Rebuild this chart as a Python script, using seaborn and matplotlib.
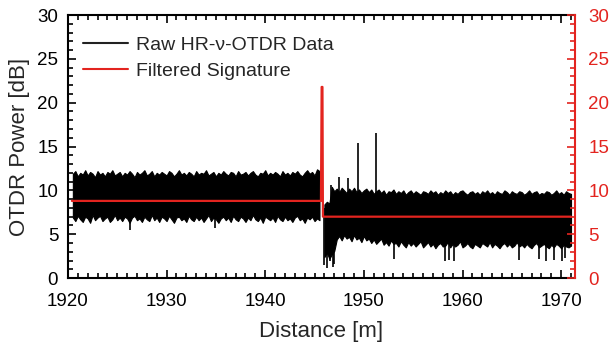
import numpy as np
import pandas as pd
import matplotlib
matplotlib.use("Agg")
import matplotlib.pyplot as plt
from matplotlib.lines import Line2D
from matplotlib.ticker import MultipleLocator
import seaborn as sns

sns.set_theme(style="white")
plt.rcParams['font.family'] = ['Liberation Sans', 'DejaVu Sans']

RED = "#e3241f"

# ---------------- data ----------------
# Raw HR-nu-OTDR trace envelope, sampled every 0.25 m
left_start = 1920.5
upper_left = [11.9, 12.2, 11.6, 12.0, 11.8, 12.3, 11.7, 12.1, 11.9, 11.5,
              12.2, 11.8, 12.0, 11.6, 12.1, 11.9, 12.3, 11.7, 11.9, 12.1,
              11.6, 12.0, 11.8, 12.2, 11.9, 11.5, 12.1, 11.8, 12.0, 12.3,
              11.7, 11.9, 12.2, 11.6, 12.0, 11.8, 12.1, 11.9, 11.7, 12.2,
              12.0, 11.6, 11.9, 12.3, 11.8, 12.0, 11.7, 12.1, 11.9, 11.6,
              12.2, 11.8, 12.0, 11.9, 12.3, 11.7, 11.9, 12.1, 11.6, 12.0,
              11.8, 12.2, 11.9, 11.7, 12.1, 12.0, 11.6, 12.2, 11.8, 11.9,
              12.1, 11.7, 12.0, 12.2, 11.8, 11.6, 12.0, 11.9, 12.3, 11.7,
              12.0, 11.8, 12.1, 11.9, 11.6, 12.2, 11.8, 12.0, 11.7, 12.1,
              11.9, 12.2, 11.8, 11.6, 12.0, 12.3, 11.9, 12.1, 11.7, 12.4,
              12.2]
lower_left = [6.9, 6.5, 7.1, 6.7, 6.4, 7.0, 6.8, 6.3, 7.2, 6.6,
              6.9, 7.1, 6.5, 6.8, 7.0, 6.4, 6.7, 7.2, 6.6, 6.9,
              6.5, 7.0, 6.8, 6.3, 6.9, 7.1, 6.6, 6.8, 6.4, 7.0,
              6.7, 6.5, 7.2, 6.6, 6.9, 6.4, 7.0, 6.8, 6.5, 7.1,
              6.7, 6.3, 6.9, 7.0, 6.6, 6.8, 6.4, 7.1, 6.7, 6.5,
              7.0, 6.6, 6.9, 6.4, 6.8, 7.2, 6.5, 6.9, 6.7, 6.3,
              6.8, 7.0, 6.6, 6.9, 6.4, 7.1, 6.7, 6.5, 7.0, 6.8,
              6.4, 6.9, 6.6, 7.2, 6.7, 6.5, 6.9, 6.3, 7.0, 6.8,
              6.6, 6.9, 6.4, 7.1, 6.7, 6.5, 7.0, 6.6, 6.8, 6.4,
              6.9, 7.1, 6.6, 6.8, 6.3, 6.9, 6.7, 7.0, 6.5, 6.8,
              6.6]
right_start = 1946.0
upper_right = [8.4, 8.7, 8.5, 10.4, 9.9, 10.2, 9.8, 10.3, 10.0, 9.7,
               10.2, 9.9, 10.3, 9.8, 10.1, 9.7, 10.0, 10.2, 9.8, 10.1,
               9.6, 9.9, 10.1, 9.7, 10.0, 9.5, 9.9, 9.8, 10.1, 9.6,
               9.9, 9.7, 10.0, 9.5, 9.8, 10.0, 9.6, 9.9, 9.7, 9.5,
               9.9, 9.8, 9.6, 10.0, 9.7, 9.9, 9.5, 9.8, 9.6, 10.0,
               9.7, 9.9, 9.5, 9.8, 9.6, 9.9, 10.0, 9.7, 9.5, 9.8,
               9.9, 9.6, 9.8, 9.5, 9.9, 9.7, 10.0, 9.6, 9.8, 9.5,
               9.9, 9.7, 9.6, 10.0, 9.8, 9.5, 9.9, 9.7, 9.6, 9.9,
               9.8, 9.5, 9.7, 10.0, 9.6, 9.8, 9.9, 9.5, 9.7, 9.6,
               9.9, 9.8, 9.5, 9.7, 10.0, 9.6, 9.8, 9.5, 9.9, 9.7,
               9.6]
lower_right = [2.4, 2.9, 2.2, 2.7, 3.1, 4.4, 4.8, 4.3, 4.9, 4.5,
               4.7, 4.2, 4.9, 4.4, 4.6, 4.1, 4.8, 4.3, 4.5, 4.0,
               4.4, 3.9, 4.2, 4.5, 3.8, 4.1, 3.7, 4.3, 3.9, 4.0,
               3.6, 4.2, 3.8, 3.5, 4.1, 3.7, 4.0, 3.6, 3.9, 4.2,
               3.5, 3.8, 4.1, 3.6, 3.9, 3.4, 3.8, 4.0, 3.6, 3.7,
               4.1, 3.5, 3.9, 3.6, 3.8, 4.2, 3.5, 3.7, 4.0, 3.6,
               3.4, 3.9, 3.7, 3.5, 4.0, 3.8, 3.6, 4.1, 3.5, 3.9,
               3.7, 3.4, 3.8, 4.0, 3.6, 3.9, 3.5, 3.7, 4.1, 3.6,
               3.8, 3.5, 3.9, 3.6, 3.4, 3.8, 4.0, 3.5, 3.7, 3.9,
               3.6, 3.4, 3.8, 3.5, 3.9, 3.7, 3.4, 3.8, 3.6, 3.5,
               3.7]

# isolated excursions of the raw trace: position, bottom, top
spike_x = [1926.3, 1934.9, 1945.95, 1946.3, 1946.6, 1946.9, 1947.0, 1946.7,
           1947.5, 1948.4, 1949.4, 1951.2, 1953.1, 1958.2, 1958.6, 1959.1,
           1965.7, 1967.8, 1968.5, 1969.3, 1970.1, 1970.4]
spike_lo = [5.5, 5.7, 1.5, 1.2, 2.0, 1.3, 1.6, 5.0,
            6.0, 6.0, 6.0, 6.0, 2.2, 2.0, 2.1, 2.0,
            2.1, 2.2, 2.0, 2.1, 2.0, 2.3]
spike_hi = [8.0, 8.0, 8.0, 8.0, 8.0, 8.0, 8.0, 10.6,
            11.5, 11.4, 15.4, 16.6, 6.0, 6.0, 6.0, 6.0,
            6.0, 6.0, 6.0, 6.0, 6.0, 6.0]

# Filtered signature
filt_x = [1920.4, 1945.65, 1945.72, 1945.80, 1945.85, 1971.0]
filt_y = [8.8, 8.8, 21.8, 21.8, 7.0, 7.0]

# ---------------- figure ----------------
fig = plt.figure(figsize=(6.12, 3.42), dpi=100)
ax = fig.add_axes([0.111, 0.187, 0.8285, 0.769])

xl = left_start + 0.25 * np.arange(len(upper_left))
xr = right_start + 0.25 * np.arange(len(upper_right))
ax.fill_between(xl, lower_left, upper_left, color="black", lw=0.8,
                edgecolor="black")
ax.fill_between(xr, lower_right, upper_right, color="black", lw=0.8,
                edgecolor="black")
ax.vlines(spike_x, spike_lo, spike_hi, color="black", lw=1.2)

filt = pd.DataFrame({"x": filt_x, "y": filt_y})
sns.lineplot(data=filt, x="x", y="y", ax=ax, color=RED, lw=1.6,
             estimator=None, sort=False, legend=False)

ax.set_xlim(1920, 1971.4)
ax.set_ylim(0, 30)
ax.xaxis.set_major_locator(MultipleLocator(10))
ax.xaxis.set_minor_locator(MultipleLocator(1))
ax.yaxis.set_major_locator(MultipleLocator(5))
ax.yaxis.set_minor_locator(MultipleLocator(1))
ax.tick_params(which="both", direction="in", top=True, right=False,
               bottom=True, left=True, colors="black", width=1.2,
               labelsize=13.5)
ax.tick_params(axis="x", which="both", pad=11)
ax.tick_params(axis="y", which="both", pad=7)
ax.tick_params(which="major", length=6)
ax.tick_params(which="minor", length=3.5)
for s in ["left", "bottom", "top"]:
    ax.spines[s].set_color("black")
    ax.spines[s].set_linewidth(1.5)
ax.spines["right"].set_visible(False)

ax.set_xlabel("Distance [m]", fontsize=16, labelpad=8)
ax.set_ylabel("OTDR Power [dB]", fontsize=16, labelpad=5)

ax2 = ax.twinx()
ax2.set_ylim(0, 30)
ax2.yaxis.set_major_locator(MultipleLocator(5))
ax2.yaxis.set_minor_locator(MultipleLocator(1))
ax2.tick_params(which="both", direction="in", right=True, left=False,
                colors=RED, width=1.2, labelsize=13.5, pad=9.5)
ax2.tick_params(which="major", length=6)
ax2.tick_params(which="minor", length=3.5)
for s in ["left", "top", "bottom"]:
    ax2.spines[s].set_visible(False)
ax2.spines["right"].set_color(RED)
ax2.spines["right"].set_linewidth(1.5)
ax2.grid(False)
ax.grid(False)

handles = [Line2D([], [], color="#222222", lw=1.5),
           Line2D([], [], color=RED, lw=1.5)]
ax.legend(handles, ["Raw HR-\u03bd-OTDR Data", "Filtered Signature"],
          loc="upper left", frameon=False, fontsize=14,
          handlelength=2.3, handletextpad=0.4, labelspacing=0.45,
          bbox_to_anchor=(0.015, 0.95), borderaxespad=0)

fig.savefig("out.png", dpi=100)
